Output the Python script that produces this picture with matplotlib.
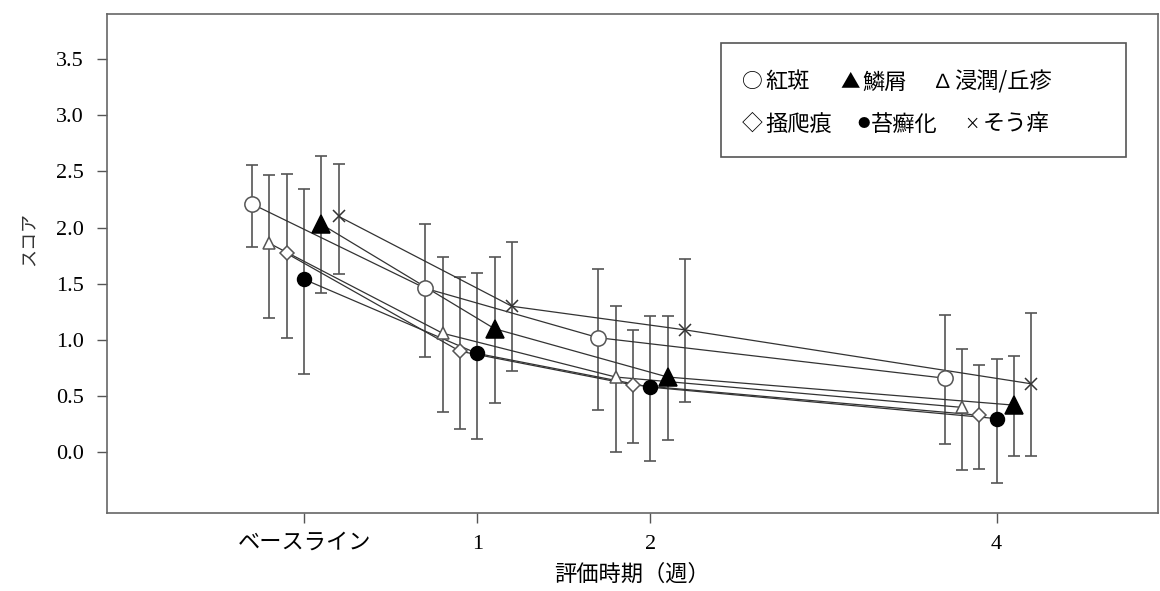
import matplotlib

matplotlib.use("Agg")
import matplotlib.pyplot as plt
import numpy as np
from matplotlib.patches import Rectangle

plt.rcParams["font.family"] = ["Liberation Serif", "Noto Sans CJK JP", "DejaVu Sans"]

# evaluation time points (weeks) and their tick labels
weeks = [0, 1, 2, 4]
tick_labels = ["ベースライン", "1", "2", "4"]

# mean score and error bar bounds
erythema = [2.21, 1.46, 1.02, 0.66]
erythema_lo = [1.83, 0.85, 0.38, 0.07]
erythema_hi = [2.56, 2.03, 1.63, 1.22]

infiltration = [1.86, 1.06, 0.67, 0.40]
infiltration_lo = [1.20, 0.36, 0.00, -0.16]
infiltration_hi = [2.47, 1.74, 1.30, 0.92]

excoriation = [1.77, 0.90, 0.60, 0.33]
excoriation_lo = [1.02, 0.21, 0.08, -0.15]
excoriation_hi = [2.48, 1.56, 1.09, 0.78]

lichen = [1.54, 0.88, 0.58, 0.30]
lichen_lo = [0.70, 0.12, -0.08, -0.27]
lichen_hi = [2.34, 1.60, 1.21, 0.83]

scale = [2.03, 1.10, 0.67, 0.42]
scale_lo = [1.42, 0.44, 0.11, -0.03]
scale_hi = [2.64, 1.74, 1.21, 0.86]

pruritus = [2.10, 1.30, 1.09, 0.61]
pruritus_lo = [1.59, 0.72, 0.45, -0.03]
pruritus_hi = [2.57, 1.87, 1.72, 1.24]

# (values, low, high, x shift, marker, size, fill)
series = [
    (erythema, erythema_lo, erythema_hi, -0.30, "o", 11, "white"),
    (infiltration, infiltration_lo, infiltration_hi, -0.20, "^", 9, "white"),
    (excoriation, excoriation_lo, excoriation_hi, -0.10, "D", 7, "white"),
    (lichen, lichen_lo, lichen_hi, 0.0, "o", 10, "black"),
    (scale, scale_lo, scale_hi, 0.10, "^", 13, "black"),
    (pruritus, pruritus_lo, pruritus_hi, 0.20, "x", 8, "none"),
]

fig = plt.figure(figsize=(11.6, 5.91), dpi=100)
ax = fig.add_axes([0.092, 0.132, 0.906, 0.844])

for vals, lo, hi, shift, mk, ms, fc in series:
    x = np.array(weeks) + shift
    v = np.array(vals)
    yerr = [v - np.array(lo), np.array(hi) - v]
    ax.errorbar(x, v, yerr=yerr, fmt="none", ecolor="#555555", elinewidth=1.2,
                capsize=4, capthick=1.2, zorder=2)
    ax.plot(x, v, color="#333333", lw=0.9, zorder=3)
    edge = "#555555" if fc == "white" else "black"
    if mk == "x":
        edge = "#333333"
    ax.plot(x, v, linestyle="none", marker=mk, markersize=ms, markerfacecolor=fc,
            markeredgecolor=edge, markeredgewidth=1.1, zorder=4)

ax.set_xlim(-1.14, 4.93)
ax.set_ylim(-0.54, 3.9)
ax.set_xticks(weeks)
ax.set_xticklabels(tick_labels)
ax.set_yticks(np.arange(0, 3.51, 0.5))
ax.set_yticklabels([f"{t:.1f}" for t in np.arange(0, 3.51, 0.5)])
ax.tick_params(direction="out", length=7.5, width=1, colors="#555555",
               labelcolor="black", labelsize=16)
ax.tick_params(axis="x", pad=8)
ax.tick_params(axis="y", pad=9)
for sp in ax.spines.values():
    sp.set_color("#666666")
    sp.set_linewidth(1.2)

ax.set_xlabel("評価時期（週）", fontsize=16, labelpad=8)
ax.set_ylabel("スコア", fontsize=13, color="#333333")
ax.yaxis.set_label_coords(-0.066, 0.55)

# legend box drawn as text, as in the original figure
fig.patches.append(Rectangle((721 / 1160, 1 - 157 / 591), 405 / 1160, 114 / 591,
                             transform=fig.transFigure, fill=False,
                             edgecolor="#555555", lw=1.2))
leg_font = ["Noto Sans CJK JP", "DejaVu Sans"]
# (symbol, symbol size, symbol x, label, label x, row y) in pixels
legend_items = [
    ("○", 15, 742, "紅斑", 765, 82),
    ("▲", 14, 840, "鱗屑", 862, 82),
    ("∆", 14, 932, "浸潤/丘疹", 954, 82),
    ("◇", 15, 742, "掻爬痕", 765, 124),
    ("●", 9, 857, "苔癬化", 871, 124),
    ("×", 11, 964, "そう痒", 983, 124),
]
for sym, ssize, sx, lab, lx, py in legend_items:
    fig.text(sx / 1160, 1 - py / 591, sym, fontsize=ssize, family=leg_font, va="center")
    fig.text(lx / 1160, 1 - py / 591, lab, fontsize=16, family=leg_font, va="center")

fig.savefig("out.png", dpi=100)
plt.close(fig)
